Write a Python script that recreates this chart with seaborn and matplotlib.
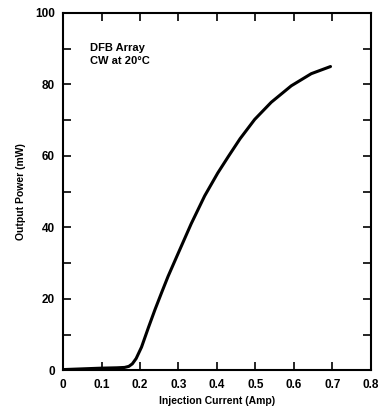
import matplotlib
matplotlib.use("Agg")
import matplotlib.pyplot as plt
import seaborn as sns
import pandas as pd
from matplotlib.ticker import MultipleLocator, FixedLocator, FixedFormatter

current = [0.0, 0.05, 0.10, 0.14, 0.16, 0.171, 0.180, 0.190, 0.204, 0.222, 0.239, 0.256,
           0.273, 0.297, 0.333, 0.368, 0.402, 0.430, 0.460, 0.498, 0.541, 0.593,
           0.645, 0.695]
power = [0.2, 0.4, 0.6, 0.7, 0.8, 1.1, 1.8, 3.3, 6.5, 12.0, 17.0, 21.7,
         26.3, 32.2, 41.0, 48.8, 55.2, 59.9, 64.8, 70.2, 75.0, 79.6,
         83.0, 85.0]

x_ticks = [0, 0.1, 0.2, 0.3, 0.4, 0.5, 0.6, 0.7, 0.8]
x_labels = ["0", "0.1", "0.2", "0.3", "0.4", "0.5", "0.6", "0.7", "0.8"]
y_ticks = [0, 20, 40, 60, 80, 100]
y_labels = ["0", "20", "40", "60", "80", "100"]

sns.set_style("ticks")
plt.rcParams['font.family'] = ['Liberation Sans', 'DejaVu Sans']
plt.rcParams['text.color'] = 'black'
plt.rcParams['axes.labelcolor'] = 'black'
plt.rcParams['xtick.color'] = 'black'
plt.rcParams['ytick.color'] = 'black'

df = pd.DataFrame({"current": current, "power": power})

fig = plt.figure(figsize=(3.82, 4.17), dpi=100)
ax = fig.add_axes([0.165, 0.112, 0.806, 0.857])
sns.lineplot(data=df, x="current", y="power", ax=ax, color="black", linewidth=2.2,
             solid_joinstyle="round", solid_capstyle="round")

ax.set_xlim(0, 0.8)
ax.set_ylim(0, 100)
ax.xaxis.set_major_locator(FixedLocator(x_ticks))
ax.xaxis.set_major_formatter(FixedFormatter(x_labels))
ax.yaxis.set_major_locator(FixedLocator(y_ticks))
ax.yaxis.set_major_formatter(FixedFormatter(y_labels))
ax.yaxis.set_minor_locator(MultipleLocator(10))

ax.tick_params(axis="both", which="both", direction="in", top=True, right=True,
               length=6, width=1.2, colors="black")
ax.tick_params(axis="both", which="major", labelsize=8.5, pad=6)
for lbl in ax.get_xticklabels() + ax.get_yticklabels():
    lbl.set_fontweight("bold")

for sp in ax.spines.values():
    sp.set_linewidth(1.5)
    sp.set_color("black")

ax.set_xlabel("Injection Current (Amp)", fontsize=7.5, fontweight="bold", labelpad=4)
ax.set_ylabel("Output Power (mW)", fontsize=7.5, fontweight="bold", labelpad=6)

ax.text(0.07, 91.5, "DFB Array\nCW at 20°C", fontsize=8, fontweight="bold",
        va="top", ha="left", linespacing=1.3)

fig.savefig("out.png", dpi=100)
